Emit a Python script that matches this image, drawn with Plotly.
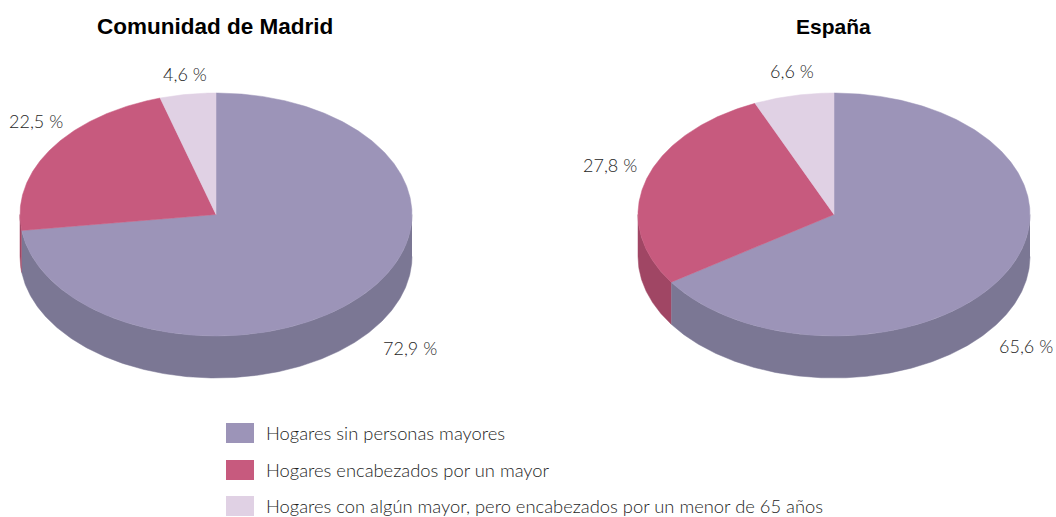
import numpy as np
import plotly.graph_objects as go

W, H = 1056, 517

# --- data ---
regions = ["Comunidad de Madrid", "España"]
categories = [
    "Hogares sin personas mayores",
    "Hogares encabezados por un mayor",
    "Hogares con algún mayor, pero encabezados por un menor de 65 años",
]
madrid_values = [72.9, 22.5, 4.6]
espana_values = [65.6, 27.8, 6.6]

# --- styles / layout ---
top_colors = ["#9C94B8", "#C75A7E", "#E0D1E4"]
side_colors = ["#7B7794", "#A04664", "#B9A9BE"]
TEXT_FONT = "Lato Light, Lato"
TEXT_COLOR = "#1E1E1E"
CY, RX, RY, DEPTH = 214.5, 196.0, 121.5, 42.0
panels = [
    dict(cx=216, left=0, right=528, ax="x", ay="y", values=madrid_values, title_x=215, title_size=22.5,
         label_pos=[(410, 348), (36, 121), (185, 74)]),
    dict(cx=834, left=528, right=1056, ax="x2", ay="y2", values=espana_values, title_x=833, title_size=21,
         label_pos=[(1026, 346), (610, 165), (792, 71)]),
]
depth_u = DEPTH / RY


def arc(a0, a1):
    t = np.radians(np.linspace(a0, a1, max(int(abs(a1 - a0) * 2), 2)))
    return np.sin(t), np.cos(t)


fig = go.Figure()
annotations = []
shapes = []

for p in panels:
    values = np.array(p["values"], dtype=float)
    edges = np.concatenate([[0], np.cumsum(values) / values.sum() * 360])
    # sides: the visible front rim runs from 90 to 270 degrees clockwise from the top
    for i in range(len(values)):
        a0, a1 = max(edges[i], 90), min(edges[i + 1], 270)
        if a1 <= a0:
            continue
        x, y = arc(a0, a1)
        fig.add_trace(go.Scatter(
            x=np.concatenate([x, x[::-1]]), y=np.concatenate([y, y[::-1] - depth_u]),
            xaxis=p["ax"], yaxis=p["ay"], mode="lines", fill="toself",
            fillcolor=side_colors[i], line=dict(width=0.5, color=side_colors[i]),
            hoverinfo="skip", showlegend=False))
    # top faces
    for i in range(len(values)):
        x, y = arc(edges[i], edges[i + 1])
        fig.add_trace(go.Scatter(
            x=np.concatenate([[0], x, [0]]), y=np.concatenate([[0], y, [0]]),
            xaxis=p["ax"], yaxis=p["ay"], mode="lines", fill="toself",
            fillcolor=top_colors[i], line=dict(width=0.5, color=top_colors[i]),
            name=categories[i], showlegend=False,
            hovertemplate=f"{categories[i]}: {values[i]}%<extra></extra>"))
    # labels
    for v, (lx, ly) in zip(p["values"], p["label_pos"]):
        annotations.append(dict(
            x=lx / W, y=1 - ly / H, xref="paper", yref="paper", showarrow=False,
            text=f"{v:.1f} %".replace(".", ","), xanchor="center", yanchor="middle",
            font=dict(family=TEXT_FONT, size=18, color=TEXT_COLOR)))

for name, p in zip(regions, panels):
    annotations.append(dict(
        x=p["title_x"] / W, y=1 - 26 / H, xref="paper", yref="paper", showarrow=False,
        text=f"<b>{name}</b>", xanchor="center", yanchor="middle",
        font=dict(family="Liberation Sans", size=p["title_size"], color="#000000")))

# legend
legend_rows = [433, 470, 506]
for cat, color, ly in zip(categories, top_colors, legend_rows):
    shapes.append(dict(type="rect", xref="paper", yref="paper",
                       x0=226 / W, x1=254 / W, y0=1 - (ly - 10) / H, y1=1 - (ly + 10) / H,
                       fillcolor=color, line=dict(width=0)))
    annotations.append(dict(
        x=264 / W, y=1 - ly / H, xref="paper", yref="paper", showarrow=False,
        text=cat, xanchor="left", yanchor="middle",
        font=dict(family=TEXT_FONT, size=18.35, color=TEXT_COLOR)))

layout_axes = {}
for p, xn, yn in zip(panels, ["xaxis", "xaxis2"], ["yaxis", "yaxis2"]):
    layout_axes[xn] = dict(domain=[p["left"] / W, p["right"] / W],
                           range=[(p["left"] - p["cx"]) / RX, (p["right"] - p["cx"]) / RX],
                           visible=False, fixedrange=True)
    layout_axes[yn] = dict(domain=[0, 1], range=[-(H - CY) / RY, CY / RY],
                           visible=False, fixedrange=True)

fig.update_layout(
    width=W, height=H, margin=dict(l=0, r=0, t=0, b=0),
    paper_bgcolor="white", plot_bgcolor="white", showlegend=False,
    annotations=annotations, shapes=shapes, **layout_axes)

fig.write_html("out.html", config=dict(displayModeBar=False),
               post_script="document.body.style.margin='0';document.body.style.overflow='hidden';")
